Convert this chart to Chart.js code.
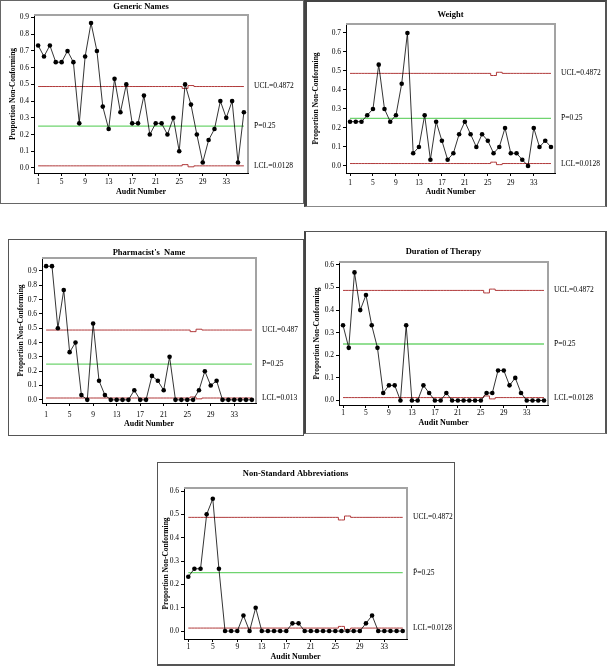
<!DOCTYPE html>
<html>
<head>
<meta charset="utf-8">
<script src="https://cdn.jsdelivr.net/npm/chart.js@4.4.0/dist/chart.umd.min.js"></script>
<style>
  body { margin: 0; width: 608px; height: 671px; background: #fff; position: relative; overflow: hidden; }
  canvas { position: absolute; }
  .frame { position: absolute; box-sizing: border-box; pointer-events: none; }
</style>
</head>
<body>
<script>
// Audit numbers on the x axis
const auditNumbers = [1, 2, 3, 4, 5, 6, 7, 8, 9, 10, 11, 12, 13, 14, 15, 16, 17, 18,
  19, 20, 21, 22, 23, 24, 25, 26, 27, 28, 29, 30, 31, 32, 33, 34, 35, 36];
const xTickValues = [1, 5, 9, 13, 17, 21, 25, 29, 33];

// y tick labels
const yTicks09 = [0.0, 0.1, 0.2, 0.3, 0.4, 0.5, 0.6, 0.7, 0.8, 0.9];
const yTicks07 = [0.0, 0.1, 0.2, 0.3, 0.4, 0.5, 0.6, 0.7];
const yTicks06 = [0.0, 0.1, 0.2, 0.3, 0.4, 0.5, 0.6];

// proportion non-conforming per audit
const genericNames = [0.733, 0.667, 0.733, 0.633, 0.633, 0.7, 0.633, 0.267, 0.667, 0.867, 0.7, 0.367,
  0.233, 0.533, 0.333, 0.5, 0.267, 0.267, 0.433, 0.2, 0.267, 0.267, 0.2, 0.3,
  0.1, 0.5, 0.379, 0.2, 0.033, 0.167, 0.233, 0.4, 0.3, 0.4, 0.033, 0.333];
const weight = [0.233, 0.233, 0.233, 0.267, 0.3, 0.533, 0.3, 0.233, 0.267, 0.433, 0.7, 0.067,
  0.1, 0.267, 0.033, 0.233, 0.133, 0.033, 0.067, 0.167, 0.233, 0.167, 0.1, 0.167,
  0.133, 0.067, 0.1, 0.2, 0.067, 0.067, 0.033, 0.0, 0.2, 0.1, 0.133, 0.1];
const pharmacistName = [0.933, 0.933, 0.5, 0.767, 0.333, 0.4, 0.033, 0.0, 0.533, 0.133, 0.033, 0.0,
  0.0, 0.0, 0.0, 0.067, 0.0, 0.0, 0.167, 0.133, 0.067, 0.3, 0.0, 0.0,
  0.0, 0.0, 0.067, 0.2, 0.1, 0.133, 0.0, 0.0, 0.0, 0.0, 0.0, 0.0];
const durationTherapy = [0.333, 0.233, 0.567, 0.4, 0.467, 0.333, 0.233, 0.033, 0.067, 0.067, 0.0, 0.333,
  0.0, 0.0, 0.067, 0.033, 0.0, 0.0, 0.033, 0.0, 0.0, 0.0, 0.0, 0.0,
  0.0, 0.033, 0.033, 0.133, 0.133, 0.067, 0.1, 0.033, 0.0, 0.0, 0.0, 0.0];
const nonStdAbbrev = [0.233, 0.267, 0.267, 0.5, 0.567, 0.267, 0.0, 0.0, 0.0, 0.067, 0.0, 0.1,
  0.0, 0.0, 0.0, 0.0, 0.0, 0.033, 0.033, 0.0, 0.0, 0.0, 0.0, 0.0,
  0.0, 0.0, 0.0, 0.0, 0.0, 0.033, 0.067, 0.0, 0.0, 0.0, 0.0, 0.0];

// control limits (small step at audits 26-27)
const uclLimits = [0.4872, 0.4872, 0.4872, 0.4872, 0.4872, 0.4872, 0.4872, 0.4872, 0.4872, 0.4872, 0.4872, 0.4872,
  0.4872, 0.4872, 0.4872, 0.4872, 0.4872, 0.4872, 0.4872, 0.4872, 0.4872, 0.4872, 0.4872, 0.4872,
  0.4872, 0.476, 0.493, 0.4872, 0.4872, 0.4872, 0.4872, 0.4872, 0.4872, 0.4872, 0.4872, 0.4872];
const lclLimits = [0.0128, 0.0128, 0.0128, 0.0128, 0.0128, 0.0128, 0.0128, 0.0128, 0.0128, 0.0128, 0.0128, 0.0128,
  0.0128, 0.0128, 0.0128, 0.0128, 0.0128, 0.0128, 0.0128, 0.0128, 0.0128, 0.0128, 0.0128, 0.0128,
  0.0128, 0.020, 0.007, 0.0128, 0.0128, 0.0128, 0.0128, 0.0128, 0.0128, 0.0128, 0.0128, 0.0128];
const pBar = 0.25;

const SERIF = '"Liberation Serif", "Times New Roman", serif';
Chart.defaults.font.family = SERIF;
Chart.defaults.color = '#000';

// layout of the five panels, page pixels
const panels = [
  { title: 'Generic Names', values: genericNames, yTicks: yTicks09, yMin: -0.03, yMax: 0.915,
    lbl: ['UCL=0.4872', 'P\u0304=0.25', 'LCL=0.0128'],
    frame: { x: 0, y: 0, w: 304, h: 204 }, plot: { l: 34, t: 15, r: 248, b: 173 },
    titleY: 7, yTitleX: 13, xTickY: 182, xTitleY: 192,
    border: '1px solid #666' },
  { title: 'Weight', values: weight, yTicks: yTicks07, yMin: -0.037, yMax: 0.747,
    lbl: ['UCL=0.4872', 'P\u0304=0.25', 'LCL=0.0128'],
    frame: { x: 304, y: 0, w: 303, h: 207 }, plot: { l: 346, t: 24, r: 555, b: 173 },
    titleY: 15, yTitleX: 316, xTickY: 183, xTitleY: 192,
    border: 'border-left:3px solid #444;border-top:2px solid #444;border-right:2px solid #555;border-bottom:1px solid #888' },
  { title: "Pharmacist's  Name", values: pharmacistName, yTicks: yTicks09, yMin: -0.022, yMax: 0.99,
    lbl: ['UCL=0.487', 'P\u0304=0.25', 'LCL=0.013'],
    frame: { x: 8, y: 239, w: 296, h: 197 }, plot: { l: 42, t: 258, r: 256, b: 403 },
    titleY: 253, yTitleX: 21, xTickY: 415, xTitleY: 424,
    border: '1px solid #555' },
  { title: 'Duration of Therapy', values: durationTherapy, yTicks: yTicks06, yMin: -0.02, yMax: 0.613,
    lbl: ['UCL=0.4872', 'P\u0304=0.25', 'LCL=0.0128'],
    frame: { x: 304, y: 231, w: 303, h: 203 }, plot: { l: 339, t: 262, r: 548, b: 405 },
    titleY: 252, yTitleX: 317, xTickY: 413, xTitleY: 423,
    border: 'border-left:2px solid #444;border-top:1px solid #555;border-right:2px solid #555;border-bottom:1px solid #777' },
  { title: 'Non-Standard Abbreviations', values: nonStdAbbrev, yTicks: yTicks06, yMin: -0.034, yMax: 0.613,
    lbl: ['UCL=0.4872', 'P\u0304=0.25', 'LCL=0.0128'],
    frame: { x: 157, y: 462, w: 298, h: 204 }, plot: { l: 184, t: 488, r: 407, b: 639 },
    titleY: 474, yTitleX: 166, xTickY: 647, xTitleY: 657,
    border: 'border:1px solid #555;border-bottom:2px solid #555' }
];

// grey plot box + limit labels to the right
const limitLabels = {
  id: 'limitLabels',
  afterDraw(chart, args, opts) {
    const { ctx, chartArea: a, scales: { y } } = chart;
    ctx.save();
    ctx.strokeStyle = '#a3a3a3';
    ctx.lineWidth = 2;
    ctx.beginPath();
    ctx.moveTo(a.left, a.top);
    ctx.lineTo(a.right, a.top);
    ctx.lineTo(a.right, a.bottom);
    ctx.stroke();
    ctx.fillStyle = '#000';
    ctx.font = '7.5px ' + SERIF;
    ctx.textBaseline = 'middle';
    ctx.textAlign = 'left';
    opts.items.forEach(it => ctx.fillText(it.text, a.right + 6, y.getPixelForValue(it.value)));
    ctx.restore();
  }
};

function makeChart(p) {
  const f = p.frame;
  const canvas = document.createElement('canvas');
  canvas.width = f.w;
  canvas.height = f.h;
  canvas.style.left = f.x + 'px';
  canvas.style.top = f.y + 'px';
  document.body.appendChild(canvas);

  const fr = document.createElement('div');
  fr.className = 'frame';
  fr.style.cssText = `left:${f.x}px;top:${f.y}px;width:${f.w}px;height:${f.h}px;` +
    (p.border.includes(':') ? p.border : 'border:' + p.border);
  document.body.appendChild(fr);

  const titleSize = 8.5, axisSize = 8, tickSize = 7.5;
  const tLH = titleSize * 1.2, aLH = axisSize * 1.2, kLH = tickSize * 1.2;
  const plotL = p.plot.l - f.x, plotT = p.plot.t - f.y, plotB = p.plot.b - f.y;
  const tPadTop = p.titleY - f.y - tLH / 2;
  const tPadBottom = plotT - tPadTop - tLH;

  new Chart(canvas, {
    type: 'line',
    data: {
      datasets: [
        { data: auditNumbers.map((n, i) => ({ x: n, y: p.values[i] })),
          borderColor: '#000', borderWidth: 0.8, pointRadius: 2.3, pointBackgroundColor: '#000',
          pointBorderWidth: 0, tension: 0 },
        { data: auditNumbers.map((n, i) => ({ x: n, y: uclLimits[i] })),
          borderColor: '#b0393a', borderWidth: 1, pointRadius: 0, stepped: 'middle' },
        { data: [{ x: auditNumbers[0], y: pBar }, { x: auditNumbers[auditNumbers.length - 1], y: pBar }],
          borderColor: '#6fd46f', borderWidth: 1.3, pointRadius: 0 },
        { data: auditNumbers.map((n, i) => ({ x: n, y: lclLimits[i] })),
          borderColor: '#b0393a', borderWidth: 1, pointRadius: 0, stepped: 'middle' }
      ]
    },
    options: {
      responsive: false,
      animation: false,
      devicePixelRatio: 1,
      layout: { padding: { left: 0, top: 0, bottom: 0, right: f.x + f.w - p.plot.r } },
      plugins: {
        legend: { display: false },
        tooltip: { enabled: false },
        title: { display: true, text: p.title, fullSize: false, color: '#000',
          font: { size: titleSize, weight: 'bold' }, padding: { top: tPadTop, bottom: tPadBottom } },
        limitLabels: { items: [
          { text: p.lbl[0], value: uclLimits[0] },
          { text: p.lbl[1], value: pBar },
          { text: p.lbl[2], value: lclLimits[0] }
        ] }
      },
      scales: {
        x: {
          type: 'linear', min: 0.3, max: 36.7,
          afterBuildTicks: s => { s.ticks = xTickValues.map(v => ({ value: v })); },
          afterFit: s => { s.height = f.h - plotB; },
          grid: { drawOnChartArea: false, drawTicks: true, tickLength: 3, tickColor: '#000' },
          border: { display: true, color: '#000', width: 1 },
          ticks: { font: { size: tickSize }, padding: p.xTickY - p.plot.b - 3 - kLH / 2,
            maxRotation: 0, autoSkip: false, callback: v => String(v) },
          title: { display: true, text: 'Audit Number', font: { size: axisSize, weight: 'bold' },
            padding: { top: 0, bottom: f.y + f.h - p.xTitleY - aLH / 2 } }
        },
        y: {
          min: p.yMin, max: p.yMax,
          afterBuildTicks: s => { s.ticks = p.yTicks.map(v => ({ value: v })); },
          afterFit: s => { s.width = plotL; },
          grid: { drawOnChartArea: false, drawTicks: true, tickLength: 3, tickColor: '#000' },
          border: { display: true, color: '#000', width: 1 },
          ticks: { font: { size: tickSize }, padding: 2, callback: v => v.toFixed(1) },
          title: { display: true, text: 'Proportion Non-Conforming', font: { size: 7.5, weight: 'bold' },
            padding: { top: p.yTitleX - f.x - 7.5 * 1.2 / 2, bottom: 0 } }
        }
      }
    },
    plugins: [limitLabels]
  });
}

panels.forEach(makeChart);
</script>
</body>
</html>
